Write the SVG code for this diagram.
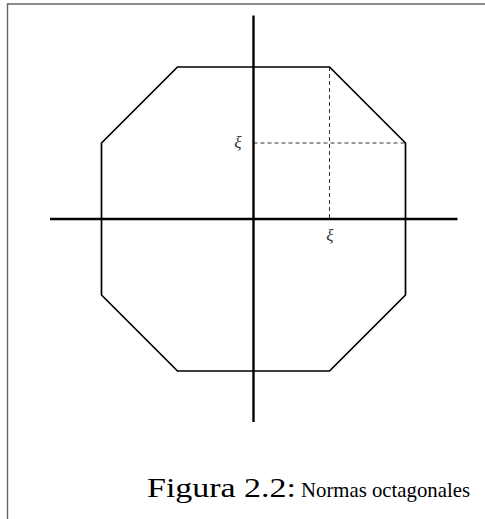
<svg xmlns="http://www.w3.org/2000/svg" width="485" height="519" viewBox="0 0 485 519">
<style>
.frame{fill:none;stroke:#666;stroke-width:1.4}
.oct{fill:none;stroke:#000;stroke-width:1.7;stroke-linejoin:miter}
.axis{stroke:#000;stroke-width:2.4;fill:none}
.dash{stroke:#000;stroke-width:0.8;stroke-dasharray:4 3;fill:none}
.lbl{font-family:"Liberation Serif",serif;font-style:italic;font-size:17px;fill:#333;text-anchor:middle}
.cap{font-family:"Liberation Serif",serif;fill:#000}
</style>
<rect width="485" height="519" fill="#fff"/>
<g id="frame"><path class="frame" d="M7.5,519 V4 H485"/></g>
<g id="octagon"><polygon class="oct" points="177.5,67 329.5,67 405.5,143 405.5,295 329.5,371 177.5,371 101.5,295 101.5,143"/></g>
<g id="connectors">
<line class="dash" x1="253.5" y1="143" x2="405.5" y2="143"/>
<line class="dash" x1="329.5" y1="67" x2="329.5" y2="219"/>
<line class="axis" x1="50" y1="219" x2="457.5" y2="219"/>
<line class="axis" x1="253.5" y1="15.5" x2="253.5" y2="422"/>
</g>
<g id="labels">
<text class="lbl" x="238" y="148">ξ</text>
<text class="lbl" x="330" y="241">ξ</text>
</g>
<g id="caption">
<text class="cap" x="147" y="497" font-size="27" textLength="149" lengthAdjust="spacingAndGlyphs">Figura 2.2:</text>
<text class="cap" x="301" y="497" font-size="21" textLength="169" lengthAdjust="spacingAndGlyphs">Normas octagonales</text>
</g>
</svg>
